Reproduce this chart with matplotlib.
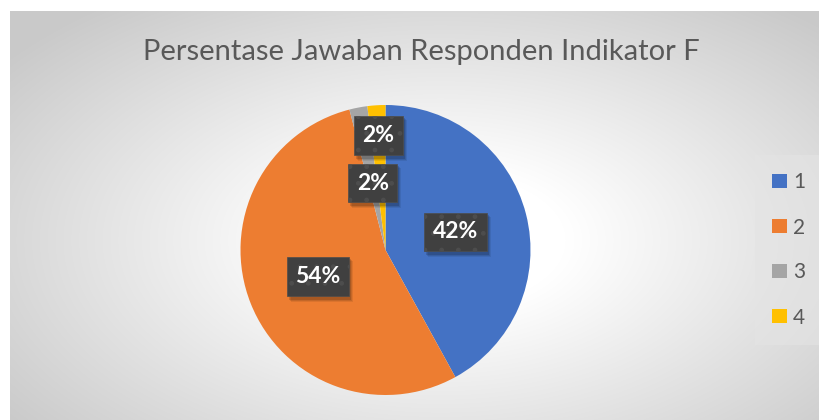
import numpy as np
import matplotlib
matplotlib.use("Agg")
import matplotlib.pyplot as plt
from matplotlib.patches import Patch, Rectangle

title = "Persentase Jawaban Responden Indikator F"
categories = ["1", "2", "3", "4"]
values = [42, 54, 2, 2]
colors = ["#4472C4", "#ED7D31", "#A5A5A5", "#FFC000"]
label_dist = [0.5, 0.5, 0.47, 0.79]

W, H = 819, 420
fig = plt.figure(figsize=(W / 100, H / 100), dpi=100)
fig.patch.set_facecolor("white")

# background radial gradient (chart area from x=10, y=11)
bg = fig.add_axes([10 / W, 0, (W - 10) / W, (H - 11) / H], zorder=0)
yy, xx = np.mgrid[11:H, 10:W]
d = np.sqrt(((xx - 440) / 420.0) ** 2 + ((yy - 240) / 230.0) ** 2)
v = 1 - 0.21 * np.clip((d - 0.3) / 1.0, 0, 1)
img = np.dstack([v, v, v])
bg.imshow(img, aspect="auto", extent=[0, 1, 0, 1], origin="upper")
bg.axis("off")

# pie
cx, cy, r = 385.5, 250, 145
ax = fig.add_axes([(cx - r) / W, (H - cy - r) / H, 2 * r / W, 2 * r / H], zorder=1)
wedges, _ = ax.pie(values, colors=colors, startangle=90, counterclock=False,
                   radius=1, wedgeprops=dict(linewidth=0))
ax.set_xlim(-1, 1)
ax.set_ylim(-1, 1)
ax.set_aspect("equal")
ax.axis("off")

total = sum(values)
labels = []
for w, val, dist in zip(wedges, values, label_dist):
    ang = np.deg2rad((w.theta1 + w.theta2) / 2)
    x, y = dist * np.cos(ang), dist * np.sin(ang)
    txt = f"{round(100 * val / total)}%"
    t = ax.text(x, y, txt, ha="center", va="center", fontsize=16.5, fontweight="bold",
                family="Lato", color="white", zorder=4,
                bbox=dict(boxstyle="square,pad=0.38", fc="#404040", ec="#4d4d4d",
                          lw=0.5, hatch="."))
    labels.append(t)

fig.text(421.5 / W, 1 - 52 / H, title, ha="center", va="center",
         fontsize=21, color="#595959", family="Lato")

handles = [Patch(facecolor=c, edgecolor="none") for c in colors]
leg = fig.legend(handles, categories, loc="center left",
                 bbox_to_anchor=(761 / W, 1 - 250 / H), borderaxespad=0, frameon=True,
                 labelspacing=1.2, handlelength=0.68, handleheight=0.68,
                 handletextpad=0.3, borderpad=0.55, prop=dict(family="Lato", size=15))
leg.get_frame().set_facecolor("#e4e4e4")
leg.get_frame().set_edgecolor("none")
leg.get_frame().set_alpha(0.6)
leg.get_frame().set_boxstyle("square")
for tx in leg.get_texts():
    tx.set_color("#595959")

# soft shadows behind label boxes
fig.canvas.draw()
renderer = fig.canvas.get_renderer()
inv = ax.transData.inverted()
for t in labels:
    bb = t.get_bbox_patch().get_window_extent(renderer)
    for k, a in [(5, 0.08), (4, 0.1), (3, 0.14)]:
        (x0, y0) = inv.transform((bb.x0 + k - 1, bb.y0 - k - 1))
        (x1, y1) = inv.transform((bb.x1 + k - 1, bb.y1 - k + 1))
        ax.add_patch(Rectangle((x0, y0), x1 - x0, y1 - y0, fc="black", ec="none",
                               alpha=a, zorder=3))

fig.savefig("out.png", dpi=100)
